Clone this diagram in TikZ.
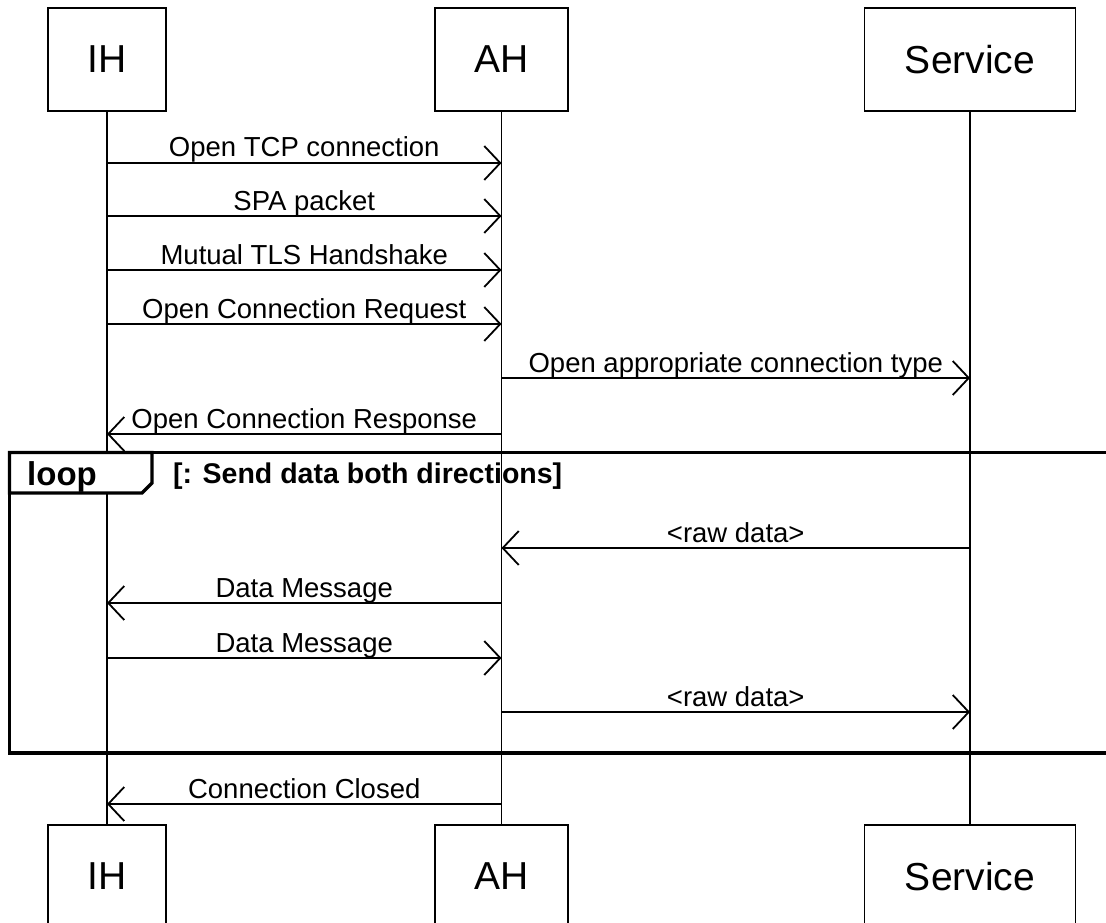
\documentclass[tikz,border=0pt]{standalone}
\usepackage{fontspec}
\setmainfont{Liberation Sans}
\usetikzlibrary{arrows.meta}
\begin{document}
\begin{tikzpicture}[x=1pt,y=-1pt,
  actor/.style={draw, line width=1.8pt, minimum height=103pt, inner sep=0pt,
    font=\fontsize{39}{39}\selectfont},
  life/.style={line width=1.8pt},
  msg/.style={line width=1.8pt, -{Straight Barb[length=16pt,width=34pt]}},
  lbl/.style={font=\fontsize{27.5}{28}\selectfont, anchor=base, inner sep=0pt, yshift=6pt},
  frame/.style={line width=3.2pt},
]
\clip (0,0) rectangle (1106,923);
\fill[white] (0,0) rectangle (1106,923);

% actors
\node[actor, minimum width=118pt] (IHt) at (107,59.5) {IH};
\node[actor, minimum width=133pt] (AHt) at (501.5,59.5) {AH};
\node[actor, minimum width=211pt] (SVt) at (970,59.5) {Service};
\node[actor, minimum width=118pt] (IHb) at (107,876.5) {IH};
\node[actor, minimum width=133pt] (AHb) at (501.5,876.5) {AH};
\node[actor, minimum width=211pt] (SVb) at (970,876.5) {Service};

% lifelines
\draw[life] (IHt.south) -- (IHb.north);
\draw[life] (AHt.south) -- (AHb.north);
\draw[life] (SVt.south) -- (SVb.north);

% loop frame
\draw[frame] (9.5,452.5) rectangle (1125,753);
\filldraw[frame, fill=white] (9.5,452.5) -- (152,452.5) -- (152,483) -- (142,493) -- (9.5,493) -- cycle;
\node[font=\bfseries\fontsize{33}{33}\selectfont, anchor=base west, inner sep=0pt] (looplbl) at (27,485) {loop};
\node[font=\bfseries\fontsize{28.5}{29}\selectfont, anchor=base west, inner sep=0pt] (guard) at (173,483) {[: Send data both directions]};
\draw[life] (AHt.south |- guard.north) -- (AHt.south |- guard.south);

% message rows
\coordinate (r1) at (0,163);
\coordinate (r2) at (0,216);
\coordinate (r3) at (0,270);
\coordinate (r4) at (0,324);
\coordinate (r5) at (0,378);
\coordinate (r6) at (0,434);
\coordinate (r7) at (0,548);
\coordinate (r8) at (0,603);
\coordinate (r9) at (0,658);
\coordinate (r10) at (0,712);
\coordinate (r11) at (0,804);

\draw[msg] (IHt |- r1) -- (AHt |- r1) node[lbl, midway] {Open TCP connection};
\draw[msg] (IHt |- r2) -- (AHt |- r2) node[lbl, midway] {SPA packet};
\draw[msg] (IHt |- r3) -- (AHt |- r3) node[lbl, midway] {Mutual TLS Handshake};
\draw[msg] (IHt |- r4) -- (AHt |- r4) node[lbl, midway] {Open Connection Request};
\draw[msg] (AHt |- r5) -- (SVt |- r5) node[lbl, midway] {Open appropriate connection type};
\draw[msg] (AHt |- r6) -- (IHt |- r6) node[lbl, midway] {Open Connection Response};
\draw[msg] (SVt |- r7) -- (AHt |- r7) node[lbl, midway] {<raw data>};
\draw[msg] (AHt |- r8) -- (IHt |- r8) node[lbl, midway] {Data Message};
\draw[msg] (IHt |- r9) -- (AHt |- r9) node[lbl, midway] {Data Message};
\draw[msg] (AHt |- r10) -- (SVt |- r10) node[lbl, midway] {<raw data>};
\draw[msg] (AHt |- r11) -- (IHt |- r11) node[lbl, midway] {Connection Closed};
\end{tikzpicture}
\end{document}
